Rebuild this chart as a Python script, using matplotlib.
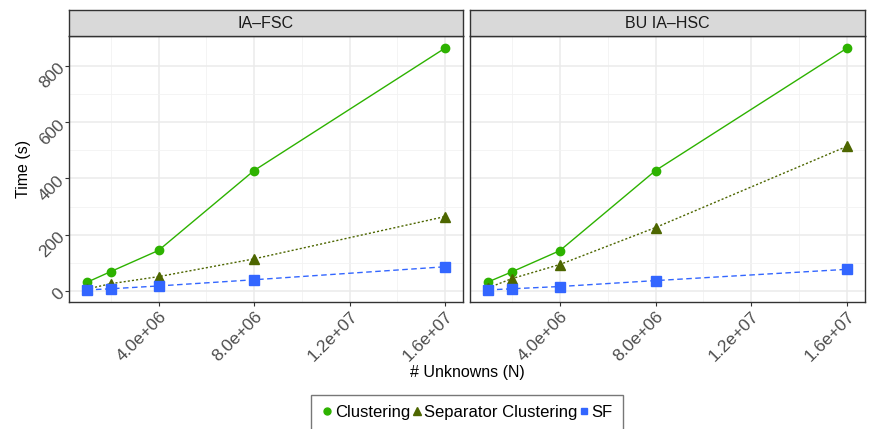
import numpy as np
import matplotlib.pyplot as plt
from matplotlib.lines import Line2D

plt.rcParams['font.family'] = ['Liberation Sans', 'DejaVu Sans']

# data
unknowns = [1e6, 2e6, 4e6, 8e6, 16e6]
panels = ['IA\u2013FSC', 'BU IA\u2013HSC']
clustering = {'IA\u2013FSC': [32, 70, 145, 428, 862],
              'BU IA\u2013HSC': [33, 69, 144, 428, 862]}
separator = {'IA\u2013FSC': [8, 27, 52, 115, 265],
             'BU IA\u2013HSC': [12, 45, 95, 226, 514]}
sf = {'IA\u2013FSC': [5, 9, 19, 41, 87],
      'BU IA\u2013HSC': [5, 9, 17, 38, 78]}

c_clu = '#2DB200'
c_sep = '#4D6600'
c_sf = '#3366FF'
grid_c = '#EBEBEB'
tick_c = '#4D4D4D'

fig = plt.figure(figsize=(8.72, 4.29), dpi=100)

W, H = 872, 429
def frac(x0, y0, x1, y1):
    return [x0 / W, 1 - y1 / H, (x1 - x0) / W, (y1 - y0) / H]

boxes = [(69, 463), (470, 865)]
allv = sum([clustering[p] + separator[p] + sf[p] for p in panels], [])
ymin, ymax = min(allv), max(allv)
pad = (ymax - ymin) * 0.05
xpad = (unknowns[-1] - unknowns[0]) * 0.05

for i, p in enumerate(panels):
    x0, x1 = boxes[i]
    ax = fig.add_axes(frac(x0, 36, x1, 302))
    ax.set_xlim(unknowns[0] - xpad, unknowns[-1] + xpad)
    ax.set_ylim(ymin - pad, ymax + pad)
    ax.set_xticks([4e6, 8e6, 1.2e7, 1.6e7])
    ax.set_xticks([2e6, 6e6, 1e7, 1.4e7], minor=True)
    ax.set_yticks([0, 200, 400, 600, 800])
    ax.set_yticks([100, 300, 500, 700], minor=True)
    ax.grid(True, which='major', color=grid_c, lw=1.1, zorder=0)
    ax.grid(True, which='minor', color='#F2F2F2', lw=0.6, zorder=0)
    ax.set_axisbelow(True)
    ax.tick_params(which='minor', length=0)
    ax.tick_params(which='major', length=3, color='#333333', width=0.8,
                   labelsize=12.5, labelcolor=tick_c, pad=2)
    ax.set_xticklabels(['4.0e+06', '8.0e+06', '1.2e+07', '1.6e+07'],
                       rotation=45, ha='right', va='top', rotation_mode='anchor')
    if i == 0:
        ax.set_yticklabels(['0', '200', '400', '600', '800'],
                           rotation=45, ha='right', va='center', rotation_mode='anchor')
        ax.set_ylabel('Time (s)', fontsize=11.5, labelpad=4)
    else:
        ax.tick_params(axis='y', labelleft=False, length=0)
    for s in ax.spines.values():
        s.set_color('#333333')
        s.set_linewidth(1.0)

    ax.plot(unknowns, clustering[p], color=c_clu, lw=1.0, ls='-',
            marker='o', ms=6, zorder=3)
    ax.plot(unknowns, separator[p], color=c_sep, lw=1.0, ls=(0, (1.5, 1.5)),
            marker='^', ms=7.5, zorder=3)
    ax.plot(unknowns, sf[p], color=c_sf, lw=1.0, ls=(0, (4, 2.5)),
            marker='s', ms=6.5, zorder=3)

    sax = fig.add_axes(frac(x0, 10, x1, 36))
    sax.set_facecolor('#D9D9D9')
    sax.set_xticks([])
    sax.set_yticks([])
    for s in sax.spines.values():
        s.set_color('#333333')
        s.set_linewidth(1.0)
    sax.text(0.5, 0.5, p, ha='center', va='center', fontsize=11.5,
             color='#1A1A1A', transform=sax.transAxes)

fig.text((69 + 865) / 2 / W, 1 - 372 / H, '# Unknowns (N)', ha='center',
         va='center', fontsize=11.5)

handles = [
    Line2D([], [], color=c_clu, marker='o', ls='none', ms=5),
    Line2D([], [], color=c_sep, marker='^', ls='none', ms=6),
    Line2D([], [], color=c_sf, marker='s', ls='none', ms=5),
]
leg = fig.legend(handles, ['Clustering', 'Separator Clustering', 'SF'],
                 loc='upper center', bbox_to_anchor=(467 / W, 1 - 395 / H),
                 ncol=3, frameon=True, fancybox=False, fontsize=12,
                 handlelength=0.7, handletextpad=0.1, columnspacing=0.05,
                 borderpad=0.6, borderaxespad=0)
leg.get_frame().set_edgecolor('#555555')
leg.get_frame().set_linewidth(1.0)

fig.savefig('out.png', dpi=100)
